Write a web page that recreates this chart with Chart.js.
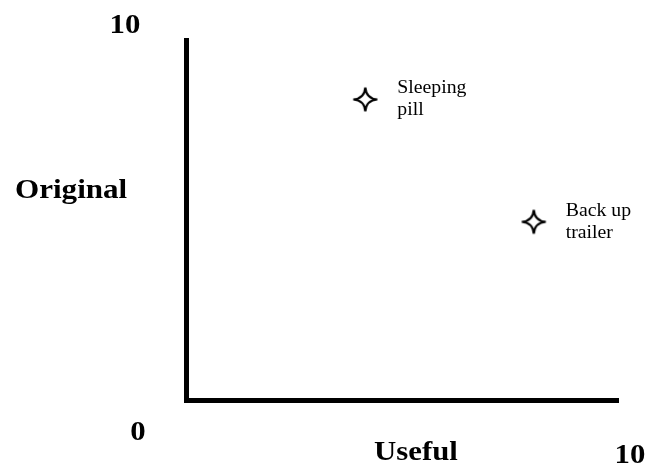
<!DOCTYPE html>
<html>
<head>
<meta charset="utf-8">
<script src="https://cdn.jsdelivr.net/npm/chart.js@4.4.0/dist/chart.umd.min.js"></script>
<style>
  html, body { margin: 0; padding: 0; background: #fff; }
  #wrap { width: 646px; height: 468px; }
</style>
</head>
<body>
<div id="wrap"><canvas id="ideaChart"></canvas></div>
<script>
// ideas placed by how useful / original they are
const ideaNames = [['Sleeping', 'pill'], ['Back up', 'trailer']];
const usefulScores = [4.15, 8.05];
const originalScores = [8.35, 4.95];
const axisMin = 0;
const axisMax = 10;
const xTitle = 'Useful';
const yTitle = 'Original';

// 4-point star marker
function makeStar(size) {
    const c = document.createElement('canvas');
    c.width = size;
    c.height = size;
    const g = c.getContext('2d');
    const m = size / 2, r = size / 2 - 1.5, k = 0.8;
    g.beginPath();
    g.moveTo(m, m - r);
    g.quadraticCurveTo(m + k, m - k, m + r, m);
    g.quadraticCurveTo(m + k, m + k, m, m + r);
    g.quadraticCurveTo(m - k, m + k, m - r, m);
    g.quadraticCurveTo(m - k, m - k, m, m - r);
    g.closePath();
    g.fillStyle = '#fff';
    g.fill();
    g.lineWidth = 2.2;
    g.strokeStyle = '#000';
    g.stroke();
    return c;
}

function drawText(ctx, text, x, y, align, stretch) {
    ctx.save();
    ctx.translate(x, y);
    ctx.scale(stretch, 1);
    ctx.textAlign = align;
    ctx.textBaseline = 'alphabetic';
    ctx.fillText(text, 0, 0);
    ctx.restore();
}

const labelPlugin = {
    id: 'labelPlugin',
    afterDraw(chart) {
        const ctx = chart.ctx;
        const area = chart.chartArea;
        ctx.fillStyle = '#000';

        // axis titles and end values
        ctx.font = 'bold 28px "Liberation Serif"';
        drawText(ctx, String(axisMax), area.left - 61, area.top - 7, 'center', 1.1);
        drawText(ctx, yTitle, 15, 198, 'left', 1.11);
        drawText(ctx, String(axisMin), area.left - 48, area.bottom + 40, 'center', 1.1);
        drawText(ctx, xTitle, 416, area.bottom + 60, 'center', 1.1);
        drawText(ctx, String(axisMax), area.right + 12, area.bottom + 63, 'center', 1.1);

        // point names
        ctx.font = '19px "Liberation Serif"';
        const meta = chart.getDatasetMeta(0);
        meta.data.forEach(function (pt, i) {
            ideaNames[i].forEach(function (line, j) {
                drawText(ctx, line, pt.x + 32, pt.y - 6 + j * 22, 'left', 1.04);
            });
        });
    }
};

const points = usefulScores.map(function (v, i) {
    return { x: v, y: originalScores[i] };
});

new Chart(document.getElementById('ideaChart').getContext('2d'), {
    type: 'scatter',
    data: {
        datasets: [{
            data: points,
            pointStyle: makeStar(27),
            pointRadius: 13,
            pointHoverRadius: 13
        }]
    },
    options: {
        responsive: true,
        maintainAspectRatio: false,
        animation: false,
        layout: {
            padding: { left: 186, top: 40, right: 28, bottom: 68 }
        },
        plugins: {
            legend: { display: false },
            tooltip: { enabled: false }
        },
        scales: {
            x: {
                min: axisMin,
                max: axisMax,
                ticks: { display: false },
                grid: { display: false, drawTicks: false },
                border: { display: true, width: 5, color: '#000' }
            },
            y: {
                min: axisMin,
                max: axisMax,
                ticks: { display: false },
                grid: { display: false, drawTicks: false },
                border: { display: true, width: 5, color: '#000' }
            }
        }
    },
    plugins: [labelPlugin]
});
</script>
</body>
</html>
